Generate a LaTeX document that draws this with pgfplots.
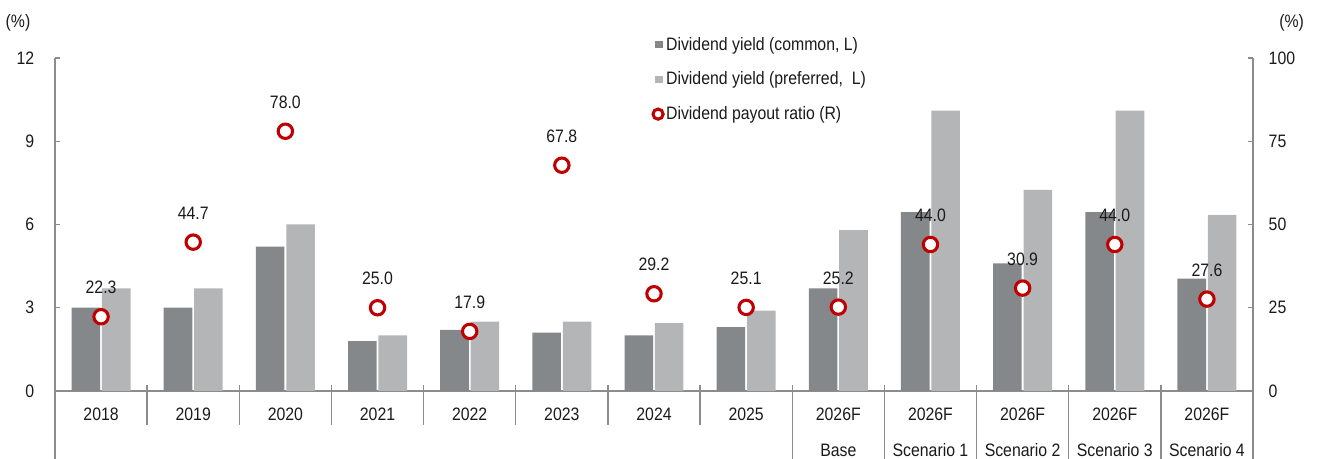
\documentclass[border=0pt]{standalone}
\usepackage{pgfplots}
\pgfplotsset{compat=1.18}
\usepackage{fontspec}
\setmainfont{Liberation Sans}[FakeStretch=0.88]
\definecolor{cdark}{HTML}{85888B}
\definecolor{clight}{HTML}{B4B5B7}
\definecolor{cred}{HTML}{C00000}
\definecolor{cax}{HTML}{8C8C8C}
\definecolor{ctext}{HTML}{1A1A1A}
\newcommand\f{\fontsize{13.5}{16.2}\selectfont}
\begin{document}
\begin{tikzpicture}[font=\f, text=ctext]
\begin{axis}[
  name=main,
  scale only axis, width=898.5pt, height=249.75pt,
  xmin=-0.5, xmax=12.5, ymin=0, ymax=12,
  axis x line*=bottom, axis y line*=left,
  axis line style={-, cax, line width=1pt},
  xtick={0,...,12},
  xticklabels={2018,2019,2020,2021,2022,2023,2024,2025,{2026F\\[10.8pt]Base},{2026F\\[10.8pt]Scenario 1},{2026F\\[10.8pt]Scenario 2},{2026F\\[10.8pt]Scenario 3},{2026F\\[10.8pt]Scenario 4}},
  x tick style={draw=none},
  xticklabel style={anchor=north, inner sep=0pt, yshift=-12.4pt, align=center, font=\f},
  ytick={0,3,6,9,12},
  tick align=inside, major tick length=3.75pt,
  y tick style={cax, line width=1pt},
  yticklabel style={xshift=-12pt, font=\f},
  /pgf/number format/assume math mode=true,
  clip=false,
]
\addplot[ybar, bar width=0.31, bar shift=-0.165, fill=cdark, draw=none] coordinates {
(0,3.0) (1,3.0) (2,5.2) (3,1.8) (4,2.2) (5,2.1) (6,2.0) (7,2.3) (8,3.7) (9,6.45) (10,4.6) (11,6.45) (12,4.05)};
\addplot[ybar, bar width=0.31, bar shift=0.165, fill=clight, draw=none] coordinates {
(0,3.7) (1,3.7) (2,6.0) (3,2.0) (4,2.5) (5,2.5) (6,2.45) (7,2.9) (8,5.8) (9,10.1) (10,7.25) (11,10.1) (12,6.35)};
\coordinate (bl) at (rel axis cs:0,0);
\coordinate (tr) at (rel axis cs:1,1);
% separators
\draw[cax, line width=1pt] ([yshift=4.5pt]axis cs:0.5,0) -- ([yshift=-25.5pt]axis cs:0.5,0);
\draw[cax, line width=1pt] ([yshift=4.5pt]axis cs:1.5,0) -- ([yshift=-25.5pt]axis cs:1.5,0);
\draw[cax, line width=1pt] ([yshift=4.5pt]axis cs:2.5,0) -- ([yshift=-25.5pt]axis cs:2.5,0);
\draw[cax, line width=1pt] ([yshift=4.5pt]axis cs:3.5,0) -- ([yshift=-25.5pt]axis cs:3.5,0);
\draw[cax, line width=1pt] ([yshift=4.5pt]axis cs:4.5,0) -- ([yshift=-25.5pt]axis cs:4.5,0);
\draw[cax, line width=1pt] ([yshift=4.5pt]axis cs:5.5,0) -- ([yshift=-25.5pt]axis cs:5.5,0);
\draw[cax, line width=1pt] ([yshift=4.5pt]axis cs:6.5,0) -- ([yshift=-25.5pt]axis cs:6.5,0);
\draw[cax, line width=1pt] ([yshift=4.5pt]axis cs:7.5,0) -- ([yshift=-52pt]axis cs:7.5,0);
\draw[cax, line width=1pt] ([yshift=4.5pt]axis cs:8.5,0) -- ([yshift=-52pt]axis cs:8.5,0);
\draw[cax, line width=1pt] ([yshift=4.5pt]axis cs:9.5,0) -- ([yshift=-52pt]axis cs:9.5,0);
\draw[cax, line width=1pt] ([yshift=4.5pt]axis cs:10.5,0) -- ([yshift=-52pt]axis cs:10.5,0);
\draw[cax, line width=1pt] ([yshift=4.5pt]axis cs:11.5,0) -- ([yshift=-52pt]axis cs:11.5,0);
\draw[cax, line width=1pt] (axis cs:-0.5,0) -- ([yshift=-52pt]axis cs:-0.5,0);
\draw[cax, line width=1pt] (axis cs:12.5,0) -- ([yshift=-52pt]axis cs:12.5,0);
\node[xshift=-27.75pt, yshift=26.25pt] at (rel axis cs:0,1) {(\%)};
\node[xshift=29pt, yshift=26.25pt] at (rel axis cs:1,1) {(\%)};
\end{axis}
\begin{axis}[
  scale only axis, width=898.5pt, height=249.75pt,
  xmin=-0.5, xmax=12.5, ymin=0, ymax=100,
  axis y line*=right, axis x line=none,
  axis line style={-, cax, line width=1pt},
  ytick={0,25,50,75,100},
  tick align=inside, major tick length=3.75pt,
  y tick style={cax, line width=1pt},
  yticklabel style={xshift=8.25pt, font=\f},
  /pgf/number format/assume math mode=true,
  clip=false,
  legend style={at={(0.4965,1.0645)}, anchor=north west, draw=none, fill=none,
    inner sep=0pt, nodes={inner sep=0pt}, font=\f, row sep=14pt,
    /tikz/every even column/.append style={column sep=2.25pt}},
  legend cell align=left,
]
\addlegendimage{legend image code/.code={\path[draw=none,fill=none] (-3pt,-6pt) rectangle (9pt,6pt); \fill[cdark, draw=none] (1pt,-2.75pt) rectangle (6.5pt,2.75pt);}}
\addlegendentry{Dividend yield (common, L)}
\addlegendimage{legend image code/.code={\path[draw=none,fill=none] (-3pt,-6pt) rectangle (9pt,6pt); \fill[clight, draw=none] (1pt,-2.75pt) rectangle (6.5pt,2.75pt);}}
\addlegendentry{Dividend yield (preferred,~ L)}
\addplot[only marks, mark=*, mark size=5.4pt, mark options={draw=cred, fill=white, line width=2.3pt},
  point meta=y,
  nodes near coords={\pgfmathprintnumber[fixed,fixed zerofill,precision=1,assume math mode=true]{\pgfplotspointmeta}},
  every node near coord/.append style={inner sep=0pt, anchor=south, yshift=16pt, font=\f, text=ctext},
  legend image code/.code={\path[draw=none,fill=none] (-3pt,-6pt) rectangle (9pt,6pt); \draw[cred, fill=white, line width=2.3pt] (3pt,0pt) circle (3.8pt);}
] coordinates {
(0,22.3) (1,44.7) (2,78.0) (3,25.0) (4,17.9) (5,67.8) (6,29.2) (7,25.1) (8,25.2) (9,44.0) (10,30.9) (11,44.0) (12,27.6)};
\addlegendentry{Dividend payout ratio (R)}
\end{axis}
\pgfresetboundingbox
\path[use as bounding box] ([shift={(-41.25pt,-51pt)}]bl) rectangle ([shift={(48pt,43.5pt)}]tr);
\end{tikzpicture}
\end{document}
